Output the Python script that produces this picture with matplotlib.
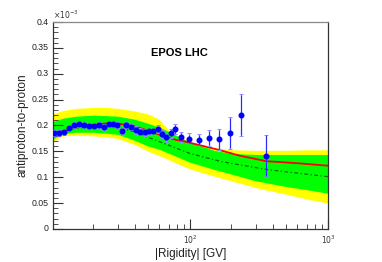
import numpy as np
import matplotlib
matplotlib.use("Agg")
import matplotlib.pyplot as plt
from matplotlib.ticker import MultipleLocator, FixedLocator, NullFormatter

plt.rcParams['font.family'] = ['Liberation Sans', 'DejaVu Sans']

# Data points (rigidity GV, ratio x1e-3)
rig = [10.4, 11.3, 12.3, 13.4, 14.6, 15.8, 17.2, 18.6, 20.3, 21.9, 23.7, 25.8, 27.7,
       29.8, 32.2, 34.7, 37.5, 40.4, 43.4, 47.0, 50.5, 54.3, 58.4, 62.8, 67.5, 72.6,
       78.1, 86.9, 98.9, 117, 137, 162, 194, 235, 357]
ratio = [0.185, 0.186, 0.188, 0.1946, 0.201, 0.2023, 0.2004, 0.199, 0.1996, 0.201,
         0.1977, 0.2023, 0.2023, 0.2016, 0.190, 0.201, 0.1977, 0.1913, 0.188, 0.1868,
         0.190, 0.1894, 0.1926, 0.1836, 0.177, 0.185, 0.193, 0.178, 0.174, 0.1714,
         0.1758, 0.1733, 0.1855, 0.2203, 0.1417]
err_tot = [0.006, 0.006, 0.006, 0.006, 0.006, 0.006, 0.006, 0.006, 0.006, 0.006,
           0.006, 0.006, 0.006, 0.006, 0.006, 0.006, 0.006, 0.007, 0.007, 0.007,
           0.007, 0.007, 0.008, 0.008, 0.008, 0.009, 0.010, 0.010, 0.011, 0.012,
           0.016, 0.020, 0.031, 0.040, 0.039]
err_stat = [0.003, 0.003, 0.003, 0.003, 0.003, 0.003, 0.003, 0.003, 0.003, 0.003,
            0.003, 0.003, 0.003, 0.003, 0.003, 0.003, 0.003, 0.004, 0.004, 0.004,
            0.004, 0.004, 0.005, 0.005, 0.005, 0.006, 0.007, 0.007, 0.008, 0.010,
            0.014, 0.018, 0.029, 0.038, 0.039]

# Model bands
band_x = [10, 12, 15, 20, 25, 30, 40, 50, 60, 80, 100, 150, 200, 300, 500, 700, 1000]
yellow_hi = [0.222, 0.229, 0.233, 0.235, 0.235, 0.233, 0.228, 0.222, 0.212, 0.172,
             0.164, 0.157, 0.153, 0.152, 0.152, 0.153, 0.153]
yellow_lo = [0.168, 0.180, 0.181, 0.180, 0.178, 0.175, 0.163, 0.150, 0.142, 0.127,
             0.116, 0.102, 0.093, 0.080, 0.067, 0.058, 0.050]
green_hi = [0.207, 0.214, 0.218, 0.220, 0.219, 0.218, 0.212, 0.204, 0.197, 0.181,
            0.168, 0.152, 0.146, 0.144, 0.144, 0.144, 0.144]
green_lo = [0.173, 0.184, 0.187, 0.187, 0.185, 0.183, 0.171, 0.160, 0.154, 0.140,
            0.129, 0.115, 0.106, 0.093, 0.082, 0.076, 0.069]

line_x = [10, 12, 15, 20, 25, 30, 40, 50, 67, 80, 93, 163, 229, 358, 608, 1000]
red_y = [0.180, 0.1895, 0.196, 0.202, 0.204, 0.204, 0.198, 0.190, 0.178, 0.172,
         0.1687, 0.1527, 0.1417, 0.131, 0.127, 0.1223]
dash_x = [10, 12, 15, 20, 30, 40, 50, 70, 100, 170, 360, 1000]
dash_y = [0.183, 0.190, 0.195, 0.197, 0.196, 0.188, 0.177, 0.162, 0.146, 0.130,
          0.115, 0.101]

fig = plt.figure(figsize=(3.82, 2.62), dpi=100)
ax = fig.add_axes([0.1387, 0.126, 0.72, 0.79])

ax.fill_between(band_x, yellow_lo, yellow_hi, color='#ffff00', lw=0)
ax.fill_between(band_x, green_lo, green_hi, color='#00ff00', lw=0)
ax.plot(line_x, red_y, color='#ff0000', lw=1.3, zorder=3)
ax.plot(dash_x, dash_y, color='#006600', lw=0.9, ls=(0, (3, 2, 1, 2)), zorder=3)

ax.errorbar(rig, ratio, yerr=err_tot, fmt='none', ecolor='#8c8cff', elinewidth=0.9,
            capsize=1.3, capthick=0.7, zorder=4)
ax.errorbar(rig, ratio, yerr=err_stat, fmt='o', color='#0000ff', ms=3.3,
            ecolor='#2a2aff', elinewidth=0.8, capsize=0, zorder=5)

ax.set_xscale('log')
ax.set_xlim(10.2, 1000)
ax.set_ylim(0, 0.4)

ax.yaxis.set_major_locator(MultipleLocator(0.05))
ax.yaxis.set_minor_locator(MultipleLocator(0.01))
ax.set_yticklabels([])
for v in np.arange(0, 0.401, 0.05):
    lab = '0' if v == 0 else ('%g' % round(v, 2))
    ax.text(-0.015, v, lab, transform=ax.get_yaxis_transform(), ha='right',
            va='center', fontsize=6.3, color='#222222')

ax.xaxis.set_major_locator(FixedLocator([100, 1000]))
minors = [20, 30, 40, 50, 60, 70, 80, 90, 200, 300, 400, 500, 600, 700, 800, 900]
ax.xaxis.set_minor_locator(FixedLocator(minors))
ax.xaxis.set_minor_formatter(NullFormatter())
ax.set_xticklabels(['$10^{2}$', '$10^{3}$'], fontsize=5.5, color='#333333')

ax.tick_params(axis='both', which='both', direction='in', color='#333333')
ax.tick_params(axis='y', which='major', length=7, width=0.8, left=True, right=False)
ax.tick_params(axis='y', which='minor', length=3.5, width=0.6, left=True, right=False)
ax.tick_params(axis='x', which='major', length=7, width=0.8, top=False, pad=3)
ax.tick_params(axis='x', which='minor', length=3.5, width=0.6, top=False)

for s in ['left', 'bottom', 'right']:
    ax.spines[s].set_color('#333333')
    ax.spines[s].set_linewidth(0.9)
ax.spines['top'].set_color('#888888')
ax.spines['top'].set_linewidth(0.9)

ax.set_xlabel('|Rigidity| [GV]', fontsize=8.5, labelpad=2, color='#222222')
ax.set_ylabel('antiproton-to-proton', fontsize=8.5, labelpad=14, color='#222222')
ax.text(0.0, 1.005, r'$\times10^{-3}$', transform=ax.transAxes, fontsize=5.5,
        ha='left', va='bottom', color='#333333')
ax.text(0.46, 0.85, 'EPOS LHC', transform=ax.transAxes, fontsize=8,
        fontweight='bold', ha='center', va='center')

fig.savefig('out.png', dpi=100)
